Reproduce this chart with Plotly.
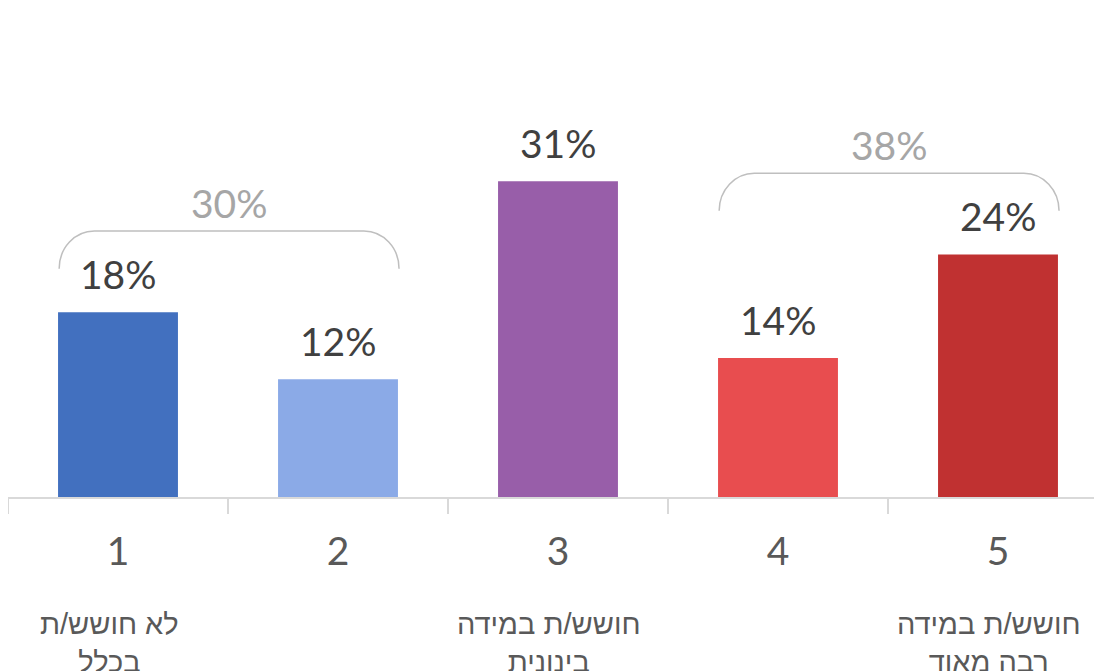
import plotly.graph_objects as go

# ---- data ----
categories = ["1", "2", "3", "4", "5"]
values = [18.2, 11.6, 31.1, 13.7, 23.9]
bar_colors = ["#4270BF", "#8BAAE7", "#985EA9", "#E84D4F", "#C03131"]
bottom_labels = ["לא חושש/ת<br>בכלל", "", "חושש/ת במידה<br>בינונית", "", "חושש/ת במידה<br>רבה מאוד"]
groups = [[0, 1], [3, 4]]

BAR_W = 0.545
LATIN = "Lato, 'Open Sans', sans-serif"
HEB = "'Liberation Sans', 'DejaVu Sans', sans-serif"

fig = go.Figure()
xs = list(range(len(categories)))
fig.add_trace(go.Bar(
    x=xs, y=values, width=BAR_W,
    marker=dict(color=bar_colors, line=dict(width=0)),
    hoverinfo="skip",
))

annotations = []
# value labels
for i, v in zip(xs, values):
    annotations.append(dict(
        x=i, y=v, xref="x", yref="y", text=f"{round(v)}%",
        showarrow=False, yanchor="middle", yshift=38,
        font=dict(family=LATIN, size=39, color="#404040"),
    ))

# bottom category descriptions
for i, t in zip(xs, bottom_labels):
    if t:
        annotations.append(dict(
            x=i, y=-0.223, xref="x", yref="paper", text=t,
            showarrow=False, yanchor="top", xshift=-9,
            font=dict(family=HEB, size=29, color="#595959"),
        ))

shapes = []
for g in groups:
    gmax = max(values[i] for i in g)
    total = sum(values[i] for i in g)
    x0 = g[0] - BAR_W / 2 + 0.005
    x1 = g[-1] + BAR_W / 2 + 0.005
    yb = gmax + 4.3
    yt = gmax + 8.0
    dx = 0.16
    k = 0.552
    path = (f"M {x0},{yb} C {x0},{yb + k*(yt-yb)} {x0 + dx*(1-k)},{yt} {x0+dx},{yt} "
            f"L {x1-dx},{yt} C {x1 - dx*(1-k)},{yt} {x1},{yb + k*(yt-yb)} {x1},{yb}")
    shapes.append(dict(type="path", path=path, xref="x", yref="y",
                       line=dict(color="#BFBFBF", width=1.5)))
    annotations.append(dict(
        x=(x0 + x1) / 2, y=gmax + 10.8, xref="x", yref="y", text=f"{round(total)}%",
        showarrow=False, yanchor="middle",
        font=dict(family=LATIN, size=39, color="#A6A6A6"),
    ))

fig.update_layout(
    width=1102, height=671,
    margin=dict(l=0, r=2, t=0, b=182),
    paper_bgcolor="white", plot_bgcolor="white",
    showlegend=False,
    annotations=annotations,
    shapes=shapes,
    xaxis=dict(
        tickmode="array", tickvals=xs, ticktext=categories,
        range=[-0.5, len(categories) - 0.5], showgrid=False, zeroline=False,
        showline=True, linecolor="#D9D9D9", linewidth=1.5,
        ticks="",
        minor=dict(tickmode="array", tickvals=[i - 0.5 for i in range(len(categories) + 1)],
                   ticks="outside", ticklen=15, tickcolor="#D9D9D9", tickwidth=1.5, showgrid=False),
        tickfont=dict(family=LATIN, size=39, color="#595959"),
        ticklabelstandoff=19,
    ),
    yaxis=dict(range=[0, 48.18], visible=False, showgrid=False, zeroline=False),
)

fig.write_html("out.html")
